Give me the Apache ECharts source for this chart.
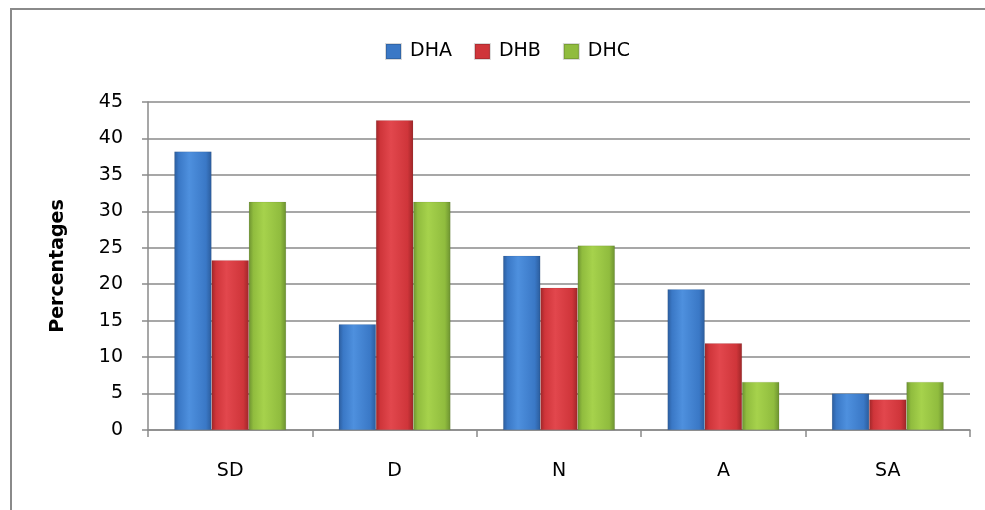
<!DOCTYPE html>
<html>
<head>
<meta charset="utf-8">
<script src="https://cdn.jsdelivr.net/npm/echarts@6/dist/echarts.min.js"></script>
<style>html,body{margin:0;padding:0;background:#fff;}#c{width:985px;height:510px;}</style>
</head>
<body>
<div id="c"></div>
<script>
var categories = ['SD', 'D', 'N', 'A', 'SA'];
var seriesNames = ['DHA', 'DHB', 'DHC'];
var dha = [38.2, 14.5, 23.9, 19.3, 5.0];
var dhb = [23.3, 42.5, 19.5, 11.9, 4.2];
var dhc = [31.3, 31.3, 25.3, 6.6, 6.6];
var yTicks = [0, 45, 5];

function gloss(edge, mid, light) {
  return new echarts.graphic.LinearGradient(0, 0, 1, 0, [
    {offset: 0, color: edge},
    {offset: 0.12, color: mid},
    {offset: 0.4, color: light},
    {offset: 0.85, color: mid},
    {offset: 1, color: edge}
  ]);
}
var styles = [
  {c: gloss('#2B5C9C', '#3A78C6', '#4E90DE'), legend: '#3A78C6'},
  {c: gloss('#9E2628', '#CF353A', '#E2474D'), legend: '#CF353A'},
  {c: gloss('#6C9130', '#90BC3E', '#A6D24C'), legend: '#90BC3E'}
];
var values = [dha, dhb, dhc];
var font = '"DejaVu Sans", sans-serif';

var chart = echarts.init(document.getElementById('c'));
chart.setOption({
  animation: false,
  backgroundColor: '#fff',
  graphic: [{
    type: 'rect', shape: {x: 11, y: 9, width: 1100, height: 700},
    style: {fill: 'none', stroke: '#8A8A8A', lineWidth: 2}, silent: true
  }],
  legend: {
    top: 37, left: 380,
    itemWidth: 15, itemHeight: 15, itemGap: 22,
    textStyle: {fontFamily: font, fontSize: 19, color: '#000', padding: [0, 0, 0, 4]},
    data: seriesNames.map(function (n, i) { return {name: n, icon: 'rect', itemStyle: {color: styles[i].legend}}; })
  },
  grid: {left: 148, right: 15, top: 102, bottom: 80},
  xAxis: {
    type: 'category', data: categories,
    axisLine: {lineStyle: {color: '#8A8A8A', width: 1.5}},
    axisTick: {show: true, length: 7, lineStyle: {color: '#8A8A8A', width: 1.5}},
    axisLabel: {margin: 32, fontFamily: font, fontSize: 19, color: '#000'}
  },
  yAxis: {
    type: 'value', min: yTicks[0], max: yTicks[1], interval: yTicks[2],
    name: 'Percentages', nameLocation: 'middle', nameGap: 80,
    nameTextStyle: {fontFamily: font, fontSize: 19, fontWeight: 'bold', color: '#000'},
    axisLine: {show: true, lineStyle: {color: '#8A8A8A', width: 1.5}},
    axisTick: {show: true, length: 6, lineStyle: {color: '#8A8A8A', width: 1.5}},
    axisLabel: {margin: 25, fontFamily: font, fontSize: 19, color: '#000'},
    splitLine: {lineStyle: {color: '#8A8A8A', width: 1.5}}
  },
  series: seriesNames.map(function (n, i) {
    return {
      name: n, type: 'bar', data: values[i],
      barGap: '0%', barCategoryGap: '32%',
      itemStyle: {color: styles[i].c, borderColor: 'rgba(0,0,0,0.15)', borderWidth: 0.5}
    };
  })
});
</script>
</body>
</html>
